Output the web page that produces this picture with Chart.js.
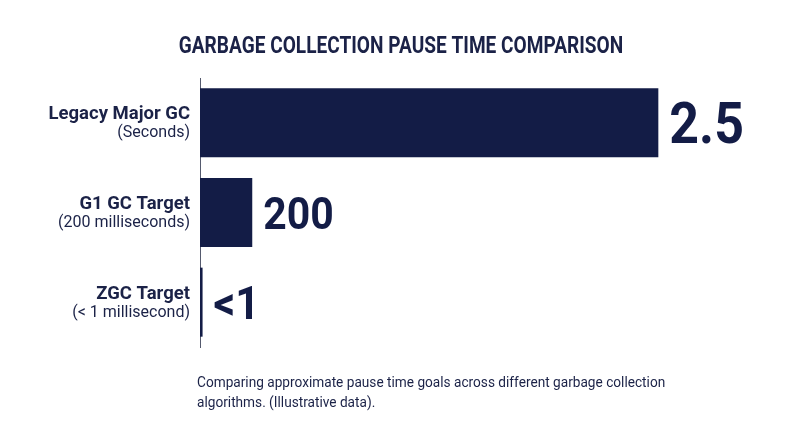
<!DOCTYPE html>
<html>
<head>
<meta charset="utf-8">
<script src="https://cdn.jsdelivr.net/npm/chart.js@4"></script>
<style>
  html, body { margin: 0; padding: 0; background: #ffffff; }
</style>
</head>
<body>
<canvas id="chart" width="800" height="447"></canvas>
<script>
const categories = ["Legacy Major GC", "G1 GC Target", "ZGC Target"];
const subLabels = ["(Seconds)", "(200 milliseconds)", "(< 1 millisecond)"];
// bar lengths on an illustrative scale (milliseconds, not to exact scale)
const pauseValues = [2500, 285, 14];
const valueLabels = ["2.5", "200", "<1"];
const valueFontSizes = [57, 45, 47];
const titleText = "GARBAGE COLLECTION PAUSE TIME COMPARISON";
const captionLines = [
  "Comparing approximate pause time goals across different garbage collection",
  "algorithms. (Illustrative data).",
];

const navy = "#131c46";
const textColor = "#1b2247";

// narrow text drawing to mimic a condensed face
function drawText(ctx, text, x, y, font, align, sx) {
  ctx.save();
  ctx.font = font;
  ctx.textBaseline = "alphabetic";
  ctx.textAlign = align;
  ctx.translate(x, y);
  ctx.scale(sx, 1);
  ctx.fillText(text, 0, 0);
  ctx.restore();
}

const textPlugin = {
  id: "texts",
  afterDatasetsDraw(chart) {
    const ctx = chart.ctx;
    const y = chart.scales.y;
    const meta = chart.getDatasetMeta(0);
    ctx.save();
    ctx.fillStyle = textColor;
    drawText(ctx, titleText, 401, 53, "bold 23px Roboto", "center", 0.83);

    categories.forEach((c, i) => {
      const py = y.getPixelForTick(i);
      drawText(ctx, c, 190, py - 3.5, "bold 18.5px Roboto", "right", 1);
      drawText(ctx, subLabels[i], 190, py + 14.5, "16px Roboto", "right", 1);
    });

    ctx.fillStyle = navy;
    meta.data.forEach((bar, i) => {
      const size = valueFontSizes[i];
      drawText(ctx, valueLabels[i], bar.x + 11, bar.y + 0.36 * size,
        "bold " + size + "px Roboto", "left", 0.91);
    });

    ctx.fillStyle = textColor;
    captionLines.forEach((line, i) => {
      drawText(ctx, line, 197, 387 + i * 19.5, "15px Roboto", "left", 0.91);
    });
    ctx.restore();
  }
};

new Chart(document.getElementById("chart"), {
  type: "bar",
  data: {
    labels: categories,
    datasets: [
      {
        data: pauseValues,
        backgroundColor: navy,
        borderWidth: 0,
        categoryPercentage: 1,
        barPercentage: 0.77,
      },
    ],
  },
  options: {
    indexAxis: "y",
    responsive: false,
    animation: false,
    layout: { padding: { top: 78, bottom: 100, left: 0, right: 50 } },
    plugins: { legend: { display: false }, tooltip: { enabled: false } },
    scales: {
      x: {
        min: 0,
        max: 3000,
        display: false,
      },
      y: {
        grid: { display: false, drawTicks: false },
        border: { display: true, color: "#555a6e", width: 1 },
        ticks: { display: false },
        afterFit(scale) { scale.width = 200; },
      },
    },
  },
  plugins: [textPlugin],
});
</script>
</body>
</html>
